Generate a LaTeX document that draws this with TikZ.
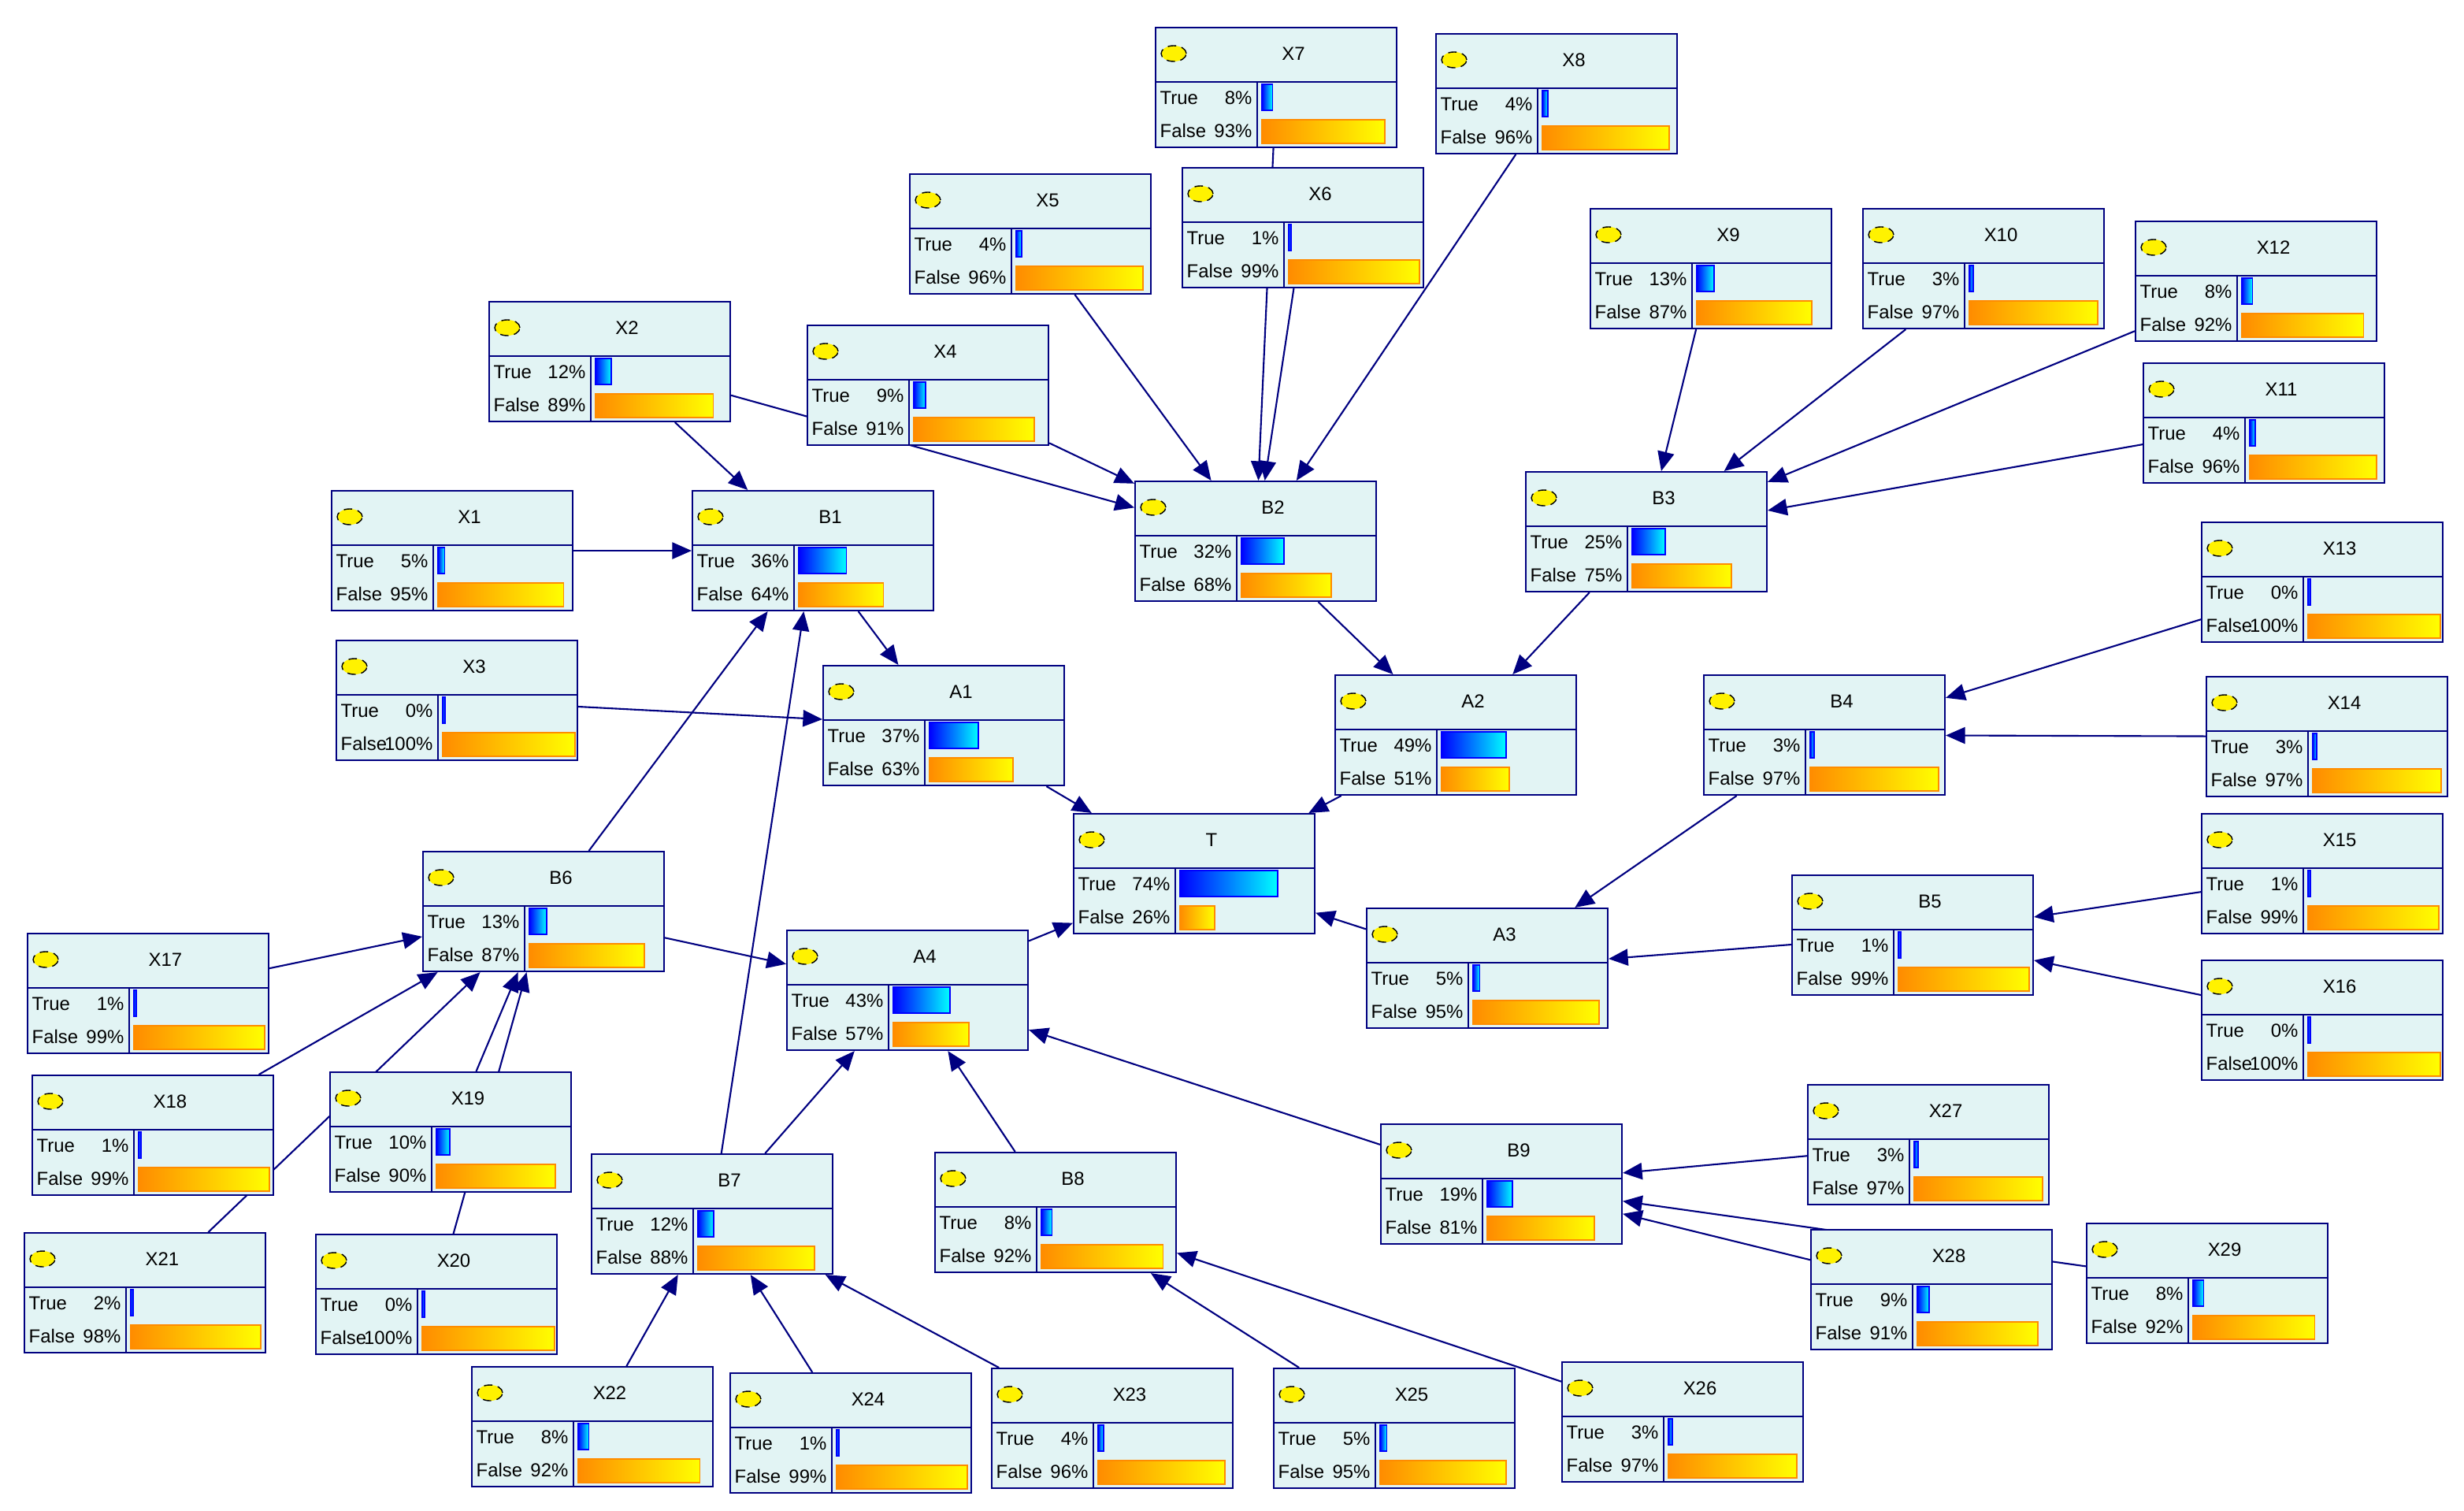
\documentclass[tikz,border=0pt]{standalone}
\usepackage{fontspec}
\setmainfont{Liberation Sans}
\usetikzlibrary{arrows.meta}
\pgfdeclarelayer{bg}\pgfsetlayers{bg,main}
\definecolor{navy}{RGB}{0,0,128}
\definecolor{boxfill}{RGB}{226,244,244}
\definecolor{orng}{RGB}{255,140,0}
\tikzset{
 box/.style={draw=navy,fill=boxfill,line width=0.6pt,minimum width=3.06cm,minimum height=1.52cm,anchor=north west,inner sep=0pt},
 txt/.style={font=\fontsize{6.8}{7}\selectfont,inner sep=0pt},
 edge/.style={draw=navy,line width=0.6pt,-{Triangle[length=7pt,width=6pt]}},
}
\newcommand\bn[6]{%
\begin{scope}[shift={(#2,#3)}]
\node[box] (#1) at (0,0) {};
\draw[navy,line width=0.5pt] (0,35)--(153,35) (65,35)--(65,76);
\draw[black,densely dashed,fill=yellow,line width=0.4pt] (12,17) ellipse [x radius=0.16cm,y radius=0.1cm];
\node[txt] at (88,17) {#4};
\node[txt,anchor=west] at (3,45) {True};
\node[txt,anchor=east] at (62,45) {#5\%};
\node[txt,anchor=west] at (3,66) {False};
\node[txt,anchor=east] at (62,66) {#6\%};
\pgfmathsetmacro\tw{max(0.84*#5,1.5)}
\pgfmathsetmacro\fw{max(0.84*#6,1.5)}
\shade[left color=blue,right color=cyan,draw=blue,line width=0.5pt] (68,36.5) rectangle ({68+\tw},53);
\shade[left color=orng,right color=yellow,draw=orng,line width=0.5pt] (68,59) rectangle ({68+\fw},74);
\end{scope}}
\begin{document}
\begin{tikzpicture}[x=0.02cm,y=-0.02cm]
\useasboundingbox (0,0) rectangle (1564,959);
\bn{X7}{733}{17}{X7}{8}{93}
\bn{X8}{911}{21}{X8}{4}{96}
\bn{X5}{577}{110}{X5}{4}{96}
\bn{X6}{750}{106}{X6}{1}{99}
\bn{X9}{1009}{132}{X9}{13}{87}
\bn{X10}{1182}{132}{X10}{3}{97}
\bn{X12}{1355}{140}{X12}{8}{92}
\bn{X2}{310}{191}{X2}{12}{89}
\bn{X4}{512}{206}{X4}{9}{91}
\bn{X11}{1360}{230}{X11}{4}{96}
\bn{B2}{720}{305}{B2}{32}{68}
\bn{B3}{968}{299}{B3}{25}{75}
\bn{X1}{210}{311}{X1}{5}{95}
\bn{B1}{439}{311}{B1}{36}{64}
\bn{X13}{1397}{331}{X13}{0}{100}
\bn{X3}{213}{406}{X3}{0}{100}
\bn{A1}{522}{422}{A1}{37}{63}
\bn{A2}{847}{428}{A2}{49}{51}
\bn{B4}{1081}{428}{B4}{3}{97}
\bn{X14}{1400}{429}{X14}{3}{97}
\bn{T}{681}{516}{T}{74}{26}
\bn{X15}{1397}{516}{X15}{1}{99}
\bn{B6}{268}{540}{B6}{13}{87}
\bn{B5}{1137}{555}{B5}{1}{99}
\bn{A3}{867}{576}{A3}{5}{95}
\bn{X17}{17}{592}{X17}{1}{99}
\bn{A4}{499}{590}{A4}{43}{57}
\bn{X16}{1397}{609}{X16}{0}{100}
\bn{X18}{20}{682}{X18}{1}{99}
\bn{X19}{209}{680}{X19}{10}{90}
\bn{X27}{1147}{688}{X27}{3}{97}
\bn{B9}{876}{713}{B9}{19}{81}
\bn{B7}{375}{732}{B7}{12}{88}
\bn{B8}{593}{731}{B8}{8}{92}
\bn{X29}{1324}{776}{X29}{8}{92}
\bn{X28}{1149}{780}{X28}{9}{91}
\bn{X21}{15}{782}{X21}{2}{98}
\bn{X20}{200}{783}{X20}{0}{100}
\bn{X26}{991}{864}{X26}{3}{97}
\bn{X22}{299}{867}{X22}{8}{92}
\bn{X24}{463}{871}{X24}{1}{99}
\bn{X23}{629}{868}{X23}{4}{96}
\bn{X25}{808}{868}{X25}{5}{95}
\begin{pgfonlayer}{bg}
\foreach \a/\b in {X7/B2,X6/B2,X5/B2,X8/B2,X4/B2,X2/B2,X2/B1,X1/B1,
 X9/B3,X10/B3,X12/B3,X11/B3,B1/A1,X3/A1,B2/A2,B3/A2,
 A1/T,A2/T,A3/T,A4/T,B4/A3,B5/A3,X13/B4,X14/B4,X15/B5,X16/B5,
 B6/B1,B7/B1,B6/A4,X17/B6,X18/B6,X19/B6,X20/B6,X21/B6,
 B7/A4,B8/A4,B9/A4,X22/B7,X24/B7,X23/B7,X25/B8,X26/B8,
 X27/B9,X28/B9,X29/B9}
 \draw[edge] (\a) -- (\b);
\end{pgfonlayer}
\end{tikzpicture}
\end{document}
